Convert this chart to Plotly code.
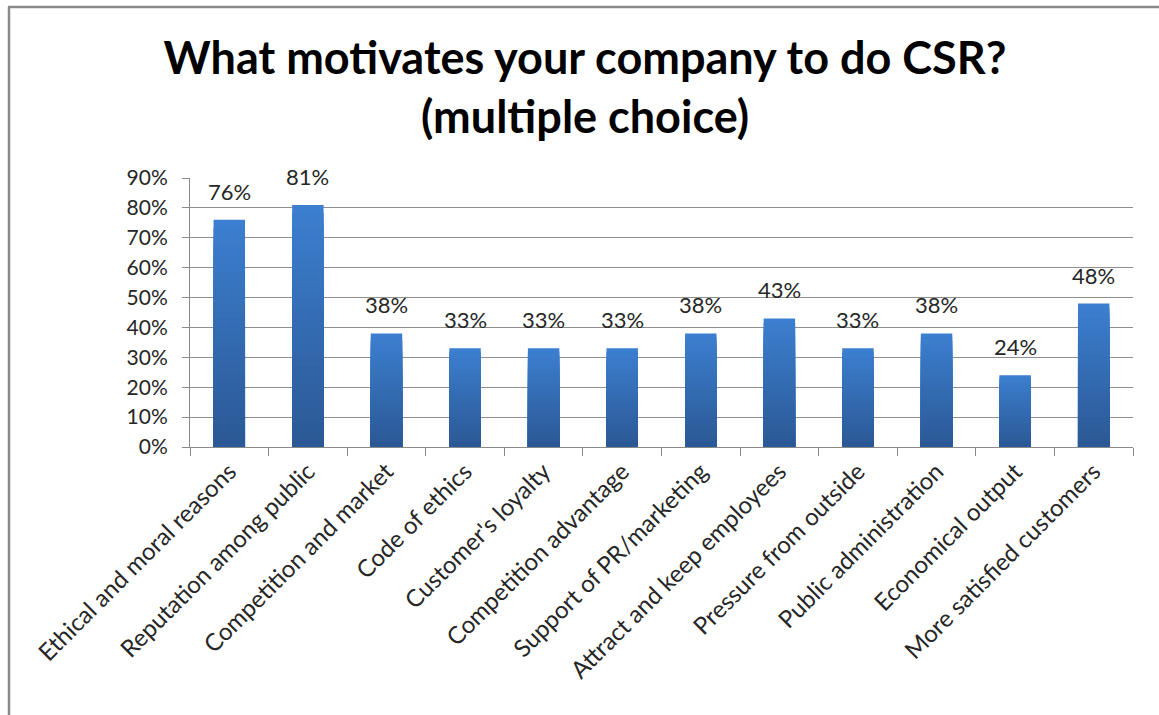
import plotly.graph_objects as go

categories = [
    "Ethical and moral reasons",
    "Reputation among public",
    "Competition and market",
    "Code of ethics",
    "Customer's loyalty",
    "Competition advantage",
    "Support of PR/marketing",
    "Attract and keep employees",
    "Pressure from outside",
    "Public administration",
    "Economical output",
    "More satisfied customers",
]
shares = [0.76, 0.81, 0.38, 0.33, 0.33, 0.33, 0.38, 0.43, 0.33, 0.38, 0.24, 0.48]
y_ticks = [0.0, 0.1, 0.2, 0.3, 0.4, 0.5, 0.6, 0.7, 0.8, 0.9]

W, H = 1159, 715
L, R, T, B = 190, 26, 178, 268

TOP_RGB = (60, 127, 208)
BOTTOM_RGB = (43, 88, 148)
STEPS = 30

fig = go.Figure()

# Vertical gradient per bar: stacked overlays, each shorter and darker
for k in range(STEPS):
    frac = (STEPS - k) / STEPS
    mid = (STEPS - k - 0.5) / STEPS
    rgb = tuple(round(BOTTOM_RGB[i] + (TOP_RGB[i] - BOTTOM_RGB[i]) * mid) for i in range(3))
    fig.add_trace(go.Bar(
        x=categories,
        y=[v * frac for v in shares],
        width=0.4,
        marker=dict(color="rgb(%d,%d,%d)" % rgb, line=dict(width=0)),
        hoverinfo="x+y" if k == 0 else "skip",
        showlegend=False,
    ))

# Value labels above each bar
for cat, v in zip(categories, shares):
    fig.add_annotation(
        x=cat, y=v, xref="x", yref="y",
        text=f"{round(v * 100)}%",
        showarrow=False,
        yanchor="bottom",
        yshift=13,
        font=dict(family="Lato, sans-serif", size=22, color="#262626"),
    )

pw = W - L - R
ph = H - T - B

def px_x(p):
    return (p - L) / pw

def px_y(p):
    return (H - B - p) / ph

# Outer chart frame (left and top edges)
fig.add_shape(
    type="line", xref="paper", yref="paper",
    x0=px_x(9), y0=px_y(715), x1=px_x(9), y1=px_y(7),
    line=dict(color="#8a8a8a", width=2.5),
)
fig.add_shape(
    type="line", xref="paper", yref="paper",
    x0=px_x(8), y0=px_y(7), x1=px_x(1160), y1=px_y(7),
    line=dict(color="#8a8a8a", width=2.5),
)

fig.update_layout(
    width=W,
    height=H,
    margin=dict(l=L, r=R, t=T, b=B),
    paper_bgcolor="white",
    plot_bgcolor="white",
    barmode="overlay",
    bargap=0.6,
    title=dict(
        text="<b>What motivates your company to do CSR?<br>(multiple choice)</b>",
        x=585 / W,
        xanchor="center",
        y=1 - 74 / H,
        yanchor="middle",
        font=dict(family="Lato, sans-serif", size=45, color="black"),
    ),
    font=dict(family="Lato, sans-serif", color="#262626"),
)

fig.update_xaxes(
    type="category",
    tickangle=-45,
    tickson="boundaries",
    ticks="outside",
    ticklen=8,
    tickcolor="#8a8a8a",
    showline=True,
    linecolor="#8a8a8a",
    linewidth=1,
    showgrid=False,
    tickfont=dict(family="Lato, sans-serif", size=24, color="#262626"),
)
fig.update_yaxes(
    range=[0, 0.9],
    tickvals=y_ticks,
    tickformat=".0%",
    ticks="outside",
    ticklen=7,
    tickcolor="#8a8a8a",
    ticklabelstandoff=10,
    showline=True,
    linecolor="#8a8a8a",
    linewidth=1,
    showgrid=True,
    gridcolor="#8f8f8f",
    gridwidth=1,
    zeroline=False,
    tickfont=dict(family="Lato, sans-serif", size=21, color="#262626"),
)

fig.write_html("out.html")
